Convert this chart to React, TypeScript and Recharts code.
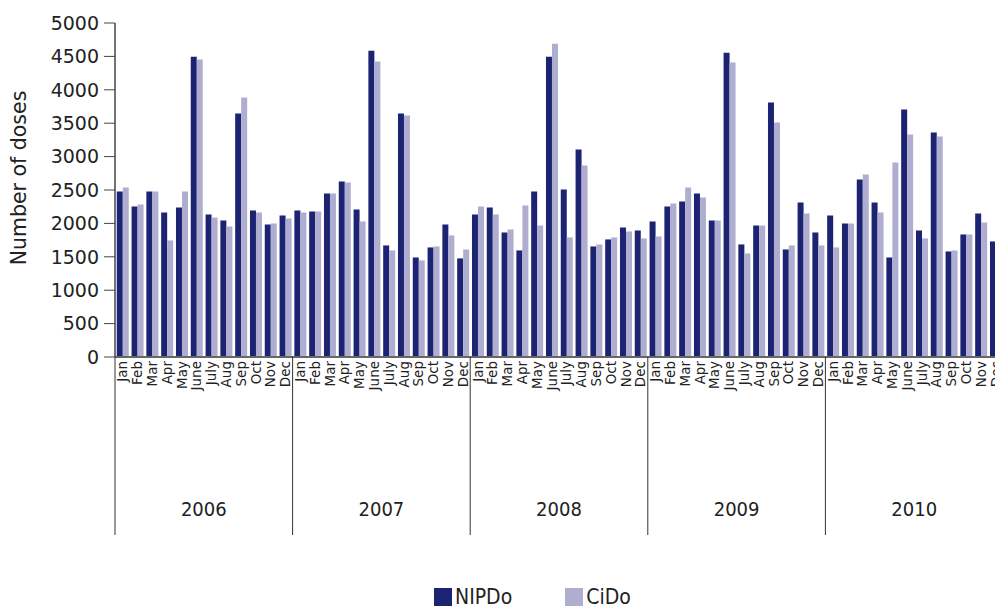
import React from "react"
import { BarChart, Bar, XAxis, YAxis, Legend } from "recharts"

const years = ["2006", "2007", "2008", "2009", "2010"]
const months = ["Jan", "Feb", "Mar", "Apr", "May", "June", "July", "Aug", "Sep", "Oct", "Nov", "Dec"]

const nipdo = [
  2478, 2253, 2478, 2163, 2238, 4496, 2134, 2044, 3644, 2193, 1984, 2119,
  2193, 2178, 2448, 2627, 2208, 4586, 1670, 3644, 1490, 1640, 1984, 1476,
  2134, 2238, 1864, 1595, 2478, 4496, 2507, 3106, 1655, 1760, 1939, 1894,
  2029, 2253, 2328, 2448, 2044, 4556, 1685, 1969, 3809, 1610, 2313, 1864,
  2119, 1999, 2657, 2313, 1490, 3704, 1894, 3360, 1580, 1834, 2149, 1730,
]

const cido = [
  2537, 2283, 2478, 1745, 2478, 4452, 2089, 1954, 3883, 2163, 1999, 2074,
  2163, 2178, 2448, 2612, 2029, 4422, 1595, 3614, 1446, 1655, 1820, 1610,
  2253, 2134, 1909, 2268, 1969, 4691, 1790, 2866, 1685, 1790, 1879, 1775,
  1805, 2298, 2537, 2388, 2044, 4407, 1550, 1969, 3509, 1670, 2149, 1670,
  1640, 1999, 2732, 2163, 2911, 3330, 1775, 3300, 1595, 1834, 2014, 1820,
]

const yTicks = [0, 500, 1000, 1500, 2000, 2500, 3000, 3500, 4000, 4500, 5000]

const data = years.flatMap((year, yi) =>
  months.map((month, mi) => ({
    key: `${year}-${mi}`,
    year,
    month,
    monthIndex: mi,
    NIPDo: nipdo[yi * 12 + mi],
    CiDo: cido[yi * 12 + mi],
  }))
)

const SANS = "'DejaVu Sans', sans-serif"
const NARROW = "'DejaVu Sans Condensed', 'DejaVu Sans', sans-serif"
const NAVY = "#1b2372"
const LAVENDER = "#b0aed0"

function MonthTick(props: any) {
  const { x, y, payload } = props
  const row = data[payload.index]
  if (!row) return null
  const half = payload.offset ?? 7.4
  return (
    <g>
      <text
        x={x}
        y={y + 4}
        transform={`rotate(-90, ${x}, ${y + 4})`}
        textAnchor="end"
        dominantBaseline="central"
        fontSize={13.5}
        fontFamily={SANS}
        fill="#222"
      >
        {row.month}
      </text>
      {row.monthIndex === 0 && (
        <line x1={x - half} x2={x - half} y1={y} y2={y + 178} stroke="#333" strokeWidth={1} />
      )}
      {row.monthIndex === 5 && (
        <text x={x + half} y={y + 159} textAnchor="middle" fontSize={20} fontFamily={NARROW} fill="#222">
          {row.year}
        </text>
      )}
    </g>
  )
}

function LegendContent() {
  const items = [
    { name: "NIPDo", color: NAVY },
    { name: "CiDo", color: LAVENDER },
  ]
  return (
    <div style={{ display: "flex", paddingLeft: 424, paddingTop: 13, fontFamily: NARROW, lineHeight: "18px" }}>
      {items.map((it) => (
        <div key={it.name} style={{ display: "flex", alignItems: "center", marginRight: 53 }}>
          <span style={{ display: "inline-block", width: 18, height: 18, background: it.color, marginRight: 3 }} />
          <span style={{ fontSize: 21, color: "#222" }}>{it.name}</span>
        </div>
      ))}
    </div>
  )
}

function YTitle(props: any) {
  const { viewBox } = props
  const cx = viewBox.x + 9
  const cy = viewBox.y + viewBox.height / 2 - 12
  return (
    <text x={cx} y={cy} transform={`rotate(-90, ${cx}, ${cy})`} textAnchor="middle" dominantBaseline="central" fontSize={20.5} fontFamily={SANS} fill="#222">
      Number of doses
    </text>
  )
}

export default function App() {
  return (
    <div style={{ position: "absolute", left: 0, top: 0, width: 995, height: 609, overflow: "hidden", background: "#fff" }}>
      <BarChart
        width={1010}
        height={609}
        data={data}
        margin={{ top: 23, right: 7, bottom: 0, left: 10 }}
        barGap={0}
        barCategoryGap="12%"
      >
        <XAxis
          dataKey="key"
          interval={0}
          height={218}
          tick={<MonthTick />}
          tickLine={false}
          tickSize={0}
          tickMargin={0}
          axisLine={{ stroke: "#666", strokeWidth: 2 }}
        />
        <YAxis
          width={105}
          domain={[0, 5000]}
          ticks={yTicks}
          interval={0}
          tickSize={11}
          tickMargin={5}
          tick={{ fontSize: 19, fontFamily: SANS, fill: "#222" }}
          tickLine={{ stroke: "#444" }}
          axisLine={{ stroke: "#444", strokeWidth: 1.5 }}
          label={<YTitle />}
        />
        <Legend verticalAlign="bottom" height={34} content={<LegendContent />} />
        <Bar dataKey="NIPDo" fill={NAVY} isAnimationActive={false} />
        <Bar dataKey="CiDo" fill={LAVENDER} isAnimationActive={false} />
      </BarChart>
    </div>
  )
}
